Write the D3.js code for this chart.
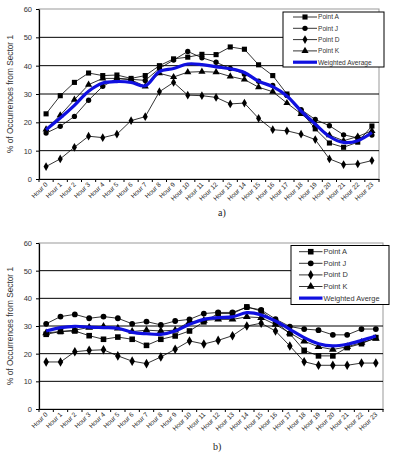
<!DOCTYPE html>
<html><head><meta charset="utf-8">
<script src="https://cdn.jsdelivr.net/npm/d3@7/dist/d3.min.js"></script>
<style>body{margin:0;background:#fff;}svg{display:block;}</style>
</head><body><svg id="c" width="397" height="463"></svg>
<script>
const hours = d3.range(24).map(i => "Hour " + i);
const yTicks = [0, 10, 20, 30, 40, 50, 60];
const seriesNames = ["Point A", "Point J", "Point D", "Point K"];

// chart a)
const aPointA = [23, 29.4, 34.1, 37.4, 36.5, 36.7, 35.5, 36.5, 40, 42.4, 43, 44, 43.9, 46.6, 45.8, 40.3, 36.5, 30, 23.8, 17.7, 12.7, 11.2, 13, 18.7];
const aPointJ = [16.2, 18.6, 22.1, 27.8, 32.7, 35.5, 35.2, 34.8, 39, 42, 45, 42.8, 41.2, 39, 37, 34.5, 33, 29.5, 24.5, 21, 18.8, 15.6, 14.5, 15.5];
const aPointD = [4.4, 7.1, 11.2, 15.1, 14.6, 15.8, 20.6, 22, 30.8, 34.1, 29.6, 29.4, 28.8, 26.5, 26.8, 21.4, 17.4, 17, 15.8, 13.9, 7.1, 5.1, 5.3, 6.5];
const aPointK = [17.5, 22.5, 28, 33.3, 35.5, 35.5, 35, 32.7, 37.3, 36, 37.7, 37.9, 37.7, 36.2, 35.1, 32.4, 30.8, 26.8, 23, 19, 15.5, 13.5, 15, 17];
const aWeighted = [17.4, 21.5, 26, 31, 33.9, 34.4, 34.1, 32.9, 37.9, 39, 40.6, 40.4, 39.6, 38.9, 37.6, 34.5, 32.6, 29.3, 24, 19.4, 15, 12.9, 13.5, 16.4];

// chart b)
const bPointA = [27, 28, 28.2, 26.5, 25.2, 26, 25.2, 23, 25.2, 26.4, 28.2, 31.5, 34.5, 34.5, 36.9, 35.4, 31.5, 27.2, 21.2, 19.2, 19.2, 22.2, 23.6, 25.8];
const bPointJ = [30.8, 33.4, 34.2, 32.8, 33.4, 32.8, 30.8, 31.6, 30.4, 31.8, 32.4, 34.5, 34.9, 34.9, 36.8, 35.8, 32.5, 29.8, 28.9, 28.5, 26.8, 26.8, 28.9, 28.9];
const bPointD = [17, 17, 20.7, 21.2, 21.4, 19.2, 17.3, 16.4, 18.8, 21.6, 24.6, 23.5, 24.8, 26.5, 30, 31, 28.2, 22.8, 17.1, 15.8, 15.8, 15.8, 16.6, 16.6];
const bPointK = [27.5, 28, 28.5, 29.5, 29.8, 29.2, 28, 28.5, 28.2, 28.5, 31.5, 32, 32.4, 32.4, 33.3, 33, 30.5, 27.5, 24.5, 22.5, 21.5, 22.5, 24, 25.5];
const bWeighted = [28.2, 29.4, 29.9, 29.6, 29.4, 29.2, 27.7, 27.2, 27, 28.2, 30.6, 32.4, 33, 33.3, 34.8, 34, 31.8, 28.8, 25.8, 23.6, 22.8, 23.4, 24.8, 26.4];

const svg = d3.select("#c");
const symbols = [d3.symbolSquare, d3.symbolCircle, d3.symbolDiamond, d3.symbolTriangle];
const symSizes = [26, 22, 22, 22];
const font = "Arial, 'Liberation Sans', sans-serif";

function drawChart(cfg) {
  const g = svg.append("g");
  const x = d3.scaleBand().domain(hours).range([cfg.left, cfg.right]);
  const y = d3.scaleLinear().domain([0, 60]).range([cfg.bottom, cfg.top]);
  const cx = d => x(d) + x.bandwidth() / 2;

  // plot border (grey)
  g.append("rect").attr("x", cfg.left).attr("y", cfg.top)
    .attr("width", cfg.right - cfg.left).attr("height", cfg.bottom - cfg.top)
    .attr("fill", "none").attr("stroke", "#999").attr("stroke-width", 1);

  // gridlines
  g.selectAll(".grid").data(yTicks.filter(t => t > 0 && t < 60)).enter().append("line")
    .attr("x1", cfg.left).attr("x2", cfg.right)
    .attr("y1", d => y(d)).attr("y2", d => y(d))
    .attr("stroke", "#000").attr("stroke-width", 1);

  // y axis
  const ya = g.append("g").attr("transform", `translate(${cfg.left},0)`)
    .call(d3.axisLeft(y).tickValues(yTicks).tickSize(3).tickSizeOuter(0).tickPadding(4));
  ya.select(".domain").attr("stroke", "#000").attr("stroke-width", 1.2);
  ya.selectAll("text").attr("font-family", font).attr("font-size", 7.5).attr("fill", "#333");

  // x axis
  const xa = g.append("g").attr("transform", `translate(0,${cfg.bottom})`)
    .call(d3.axisBottom(x).tickSize(0).tickSizeOuter(0).tickPadding(0));
  xa.select(".domain").attr("stroke", "#000").attr("stroke-width", 1.2);
  xa.selectAll(".tick text")
    .attr("font-family", font).attr("font-size", 6.5).attr("fill", "#222")
    .attr("text-anchor", "end").attr("dy", 0)
    .attr("transform", "translate(2,6) rotate(-45)");
  // boundary tick marks
  g.selectAll(".xt").data(d3.range(25)).enter().append("line")
    .attr("x1", i => cfg.left + i * x.step()).attr("x2", i => cfg.left + i * x.step())
    .attr("y1", cfg.bottom).attr("y2", cfg.bottom + 3)
    .attr("stroke", "#000").attr("stroke-width", 1);

  // y axis title
  g.append("text").attr("transform", `translate(${cfg.titleX},${(cfg.top + cfg.bottom) / 2}) rotate(-90)`)
    .attr("text-anchor", "middle").attr("font-family", font).attr("font-size", 8.3).attr("fill", "#333")
    .text("% of Occurrences from Sector 1");

  const line = d3.line().x((d, i) => cx(hours[i])).y(d => y(d));
  cfg.series.forEach((s, k) => {
    g.append("path").datum(s).attr("d", line).attr("fill", "none")
      .attr("stroke", "#000").attr("stroke-width", 0.8);
    g.selectAll(".m" + k).data(s).enter().append("path")
      .attr("d", d3.symbol().type(symbols[k]).size(symSizes[k] * cfg.mScale))
      .attr("transform", (d, i) => `translate(${cx(hours[i])},${y(d)})`)
      .attr("fill", "#000");
  });
  const wline = d3.line().x((d, i) => cx(hours[i])).y(d => y(d)).curve(d3.curveCatmullRom);
  g.append("path").datum(cfg.weighted).attr("d", wline).attr("fill", "none")
    .attr("stroke", "#1010e0").attr("stroke-width", 3.2);

  // legend
  const L = cfg.legend;
  g.append("rect").attr("x", L.x).attr("y", L.y).attr("width", L.w).attr("height", L.h)
    .attr("fill", "#fff").attr("stroke", "#000").attr("stroke-width", 1);
  const names = seriesNames.concat([cfg.wName]);
  names.forEach((n, k) => {
    const ry = L.y + L.first + k * L.gap;
    g.append("line").attr("x1", L.lx1).attr("x2", L.lx2).attr("y1", ry).attr("y2", ry)
      .attr("stroke", k < 4 ? "#000" : "#1010e0").attr("stroke-width", k < 4 ? 0.8 : 3.2);
    if (k < 4) {
      g.append("path").attr("d", d3.symbol().type(symbols[k]).size(symSizes[k] * cfg.mScale))
        .attr("transform", `translate(${(L.lx1 + L.lx2) / 2},${ry})`).attr("fill", "#000");
    }
    g.append("text").attr("x", L.lx2 + 1).attr("y", ry).attr("dy", "0.35em")
      .attr("font-family", font).attr("font-size", L.fs).attr("fill", "#333").text(n);
  });

  g.append("text").attr("x", cfg.capX).attr("y", cfg.capY)
    .attr("font-family", "'Liberation Serif', 'DejaVu Serif', serif").attr("font-size", 10).attr("fill", "#222")
    .text(cfg.caption);
}

drawChart({
  left: 39, right: 379, top: 9, bottom: 179, titleX: 13,
  series: [aPointA, aPointJ, aPointD, aPointK], weighted: aWeighted,
  wName: "Weighted Average", mScale: 1,
  legend: { x: 283, y: 12, w: 101, h: 55, first: 5, gap: 11.3, lx1: 293, lx2: 317, fs: 6.6 },
  caption: "a)", capX: 218, capY: 216
});
drawChart({
  left: 39, right: 383, top: 243, bottom: 409, titleX: 13,
  series: [bPointA, bPointJ, bPointD, bPointK], weighted: bWeighted,
  wName: "Weighted Averge", mScale: 1.2,
  legend: { x: 291, y: 245.5, w: 98, h: 59, first: 6.2, gap: 11.6, lx1: 299, lx2: 322.5, fs: 7.4 },
  caption: "b)", capX: 213, capY: 450
});
</script></body></html>
